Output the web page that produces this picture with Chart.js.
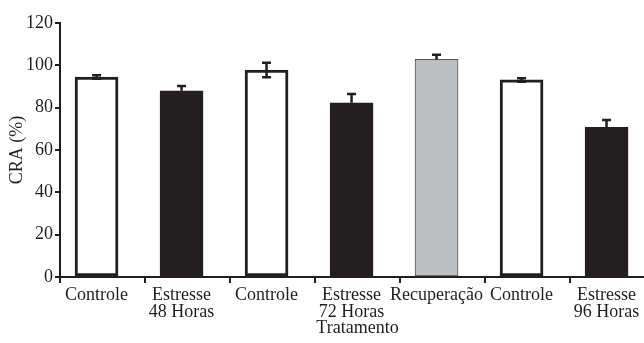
<!DOCTYPE html>
<html>
<head>
<meta charset="utf-8">
<script src="https://cdn.jsdelivr.net/npm/chart.js@4/dist/chart.umd.min.js"></script>
<style>
html, body { margin: 0; padding: 0; overflow: hidden; background: #fff; }
#wrap { width: 660px; height: 343px; position: relative; }
</style>
</head>
<body>
<div id="wrap"><canvas id="barCanvas"></canvas></div>
<script>
// tratamentos (eixo x)
var categorias = [
	'Controle',
	['Estresse', '48 Horas'],
	'Controle',
	['Estresse', '72 Horas'],
	'Recuperação',
	'Controle',
	['Estresse', '96 Horas']
];
// CRA (%) e erro padrao
var cra = [94.5, 88.0, 97.8, 82.3, 102.8, 93.1, 70.7];
var erro = [0.8, 2.2, 3.4, 4.2, 2.2, 0.8, 3.5];
var erroDuplo = [true, false, true, false, false, true, false];
var cores = ['#ffffff', '#231f20', '#ffffff', '#231f20', '#bcbec0', '#ffffff', '#231f20'];
var yTicks = [0, 20, 40, 60, 80, 100, 120];

var fonte = { family: '"Liberation Serif", "Times New Roman", serif', size: 18 };

// barras de erro
var errorBars = {
	id: 'errorBars',
	afterDatasetsDraw: function (chart) {
		var ctx = chart.ctx;
		var y = chart.scales.y;
		var meta = chart.getDatasetMeta(0);
		ctx.save();
		ctx.strokeStyle = '#231f20';
		ctx.lineWidth = 2.5;
		meta.data.forEach(function (bar, i) {
			var top = y.getPixelForValue(cra[i] + erro[i]);
			var bot = erroDuplo[i] ? y.getPixelForValue(cra[i] - erro[i]) : bar.y;
			ctx.beginPath();
			ctx.moveTo(bar.x, top);
			ctx.lineTo(bar.x, bot);
			ctx.moveTo(bar.x - 4.5, top);
			ctx.lineTo(bar.x + 4.5, top);
			if (erroDuplo[i]) {
				ctx.moveTo(bar.x - 4.5, bot);
				ctx.lineTo(bar.x + 4.5, bot);
			}
			ctx.stroke();
		});
		ctx.restore();
	}
};

// tracos do eixo x entre os grupos
var xTickMarks = {
	id: 'xTickMarks',
	afterDraw: function (chart) {
		var ctx = chart.ctx;
		var x = chart.scales.x;
		ctx.save();
		ctx.strokeStyle = '#231f20';
		ctx.lineWidth = 2;
		for (var k = 0; k <= categorias.length; k++) {
			var px = Math.round(x.getPixelForValue(x.min + k));
			ctx.beginPath();
			ctx.moveTo(px, x.top);
			ctx.lineTo(px, x.top + 6);
			ctx.stroke();
		}
		ctx.restore();
	}
};

var ctx = document.getElementById('barCanvas').getContext('2d');
var myBarChart = new Chart(ctx, {
	type: 'bar',
	data: {
		datasets: [{
			data: cra.map(function (v, i) { return { x: i, y: v }; }),
			backgroundColor: cores,
			borderColor: cores.map(function (c) { return c === '#bcbec0' ? '#555555' : '#231f20'; }),
			borderWidth: cores.map(function (c) { return c === '#ffffff' ? 3 : 1; }),
			borderSkipped: false,
			barThickness: 43
		}]
	},
	options: {
		responsive: true,
		maintainAspectRatio: false,
		animation: false,
		layout: { padding: { top: 23, right: 5, left: 0, bottom: 0 } },
		plugins: {
			legend: { display: false },
			tooltip: { enabled: false }
		},
		scales: {
			x: {
				type: 'linear',
				offset: false,
				bounds: 'data',
				min: -0.43,
				max: 6.57,
				afterBuildTicks: function (scale) {
					scale.ticks = categorias.map(function (c, i) { return { value: i }; });
				},
				afterFit: function (scale) { scale.height = 66; },
				grid: { display: false, offset: false },
				border: { display: true, color: '#231f20', width: 2 },
				ticks: {
					autoSkip: false,
					maxRotation: 0,
					padding: 2,
					color: '#231f20',
					font: { family: fonte.family, size: 18, lineHeight: 0.95 },
					callback: function (v) { return categorias[v]; }
				},
				title: {
					display: true,
					text: 'Tratamento',
					color: '#231f20',
					font: { family: fonte.family, size: 18, lineHeight: 1 },
					padding: { top: 0, bottom: 6 }
				}
			},
			y: {
				min: 0,
				max: 120,
				afterBuildTicks: function (scale) {
					scale.ticks = yTicks.map(function (v) { return { value: v }; });
				},
				afterFit: function (scale) { scale.width = 60; },
				grid: { drawOnChartArea: false, tickLength: 5, color: '#231f20', lineWidth: 2 },
				border: { display: true, color: '#231f20', width: 2 },
				ticks: { padding: 2, color: '#231f20', font: fonte },
				title: {
					display: true,
					text: 'CRA (%)',
					color: '#231f20',
					font: fonte,
					padding: 6
				}
			}
		}
	},
	plugins: [errorBars, xTickMarks]
});
</script>
</body>
</html>
